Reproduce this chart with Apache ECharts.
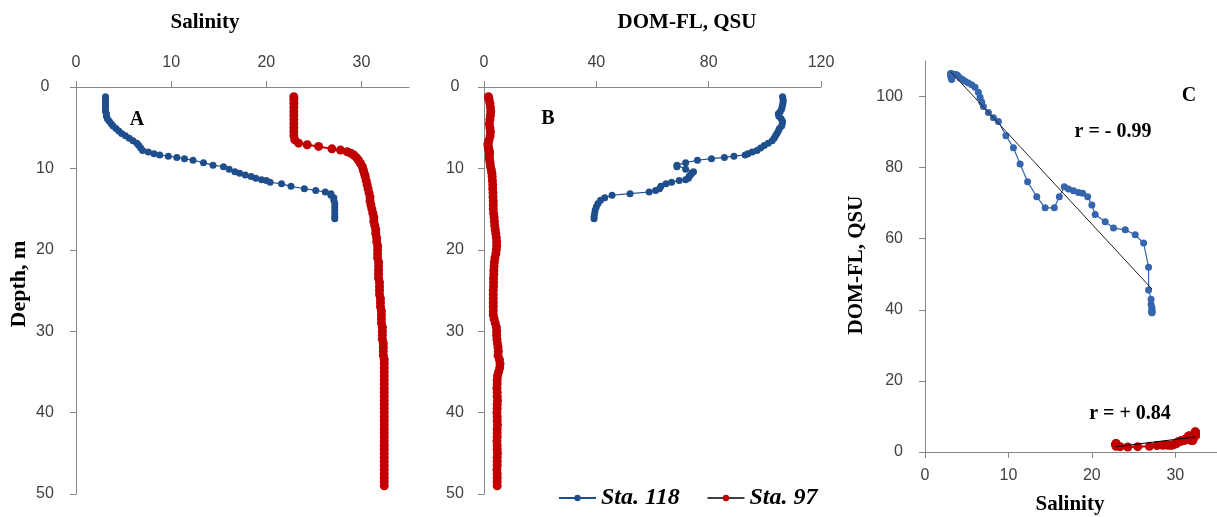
<!DOCTYPE html>
<html>
<head>
<meta charset="utf-8">
<script src="https://cdn.jsdelivr.net/npm/echarts@6/dist/echarts.min.js"></script>
</head>
<body style="margin:0;padding:0;background:#fff;">
<div id="chart" style="width:1217px;height:517px;"></div>
<script>
// Sta. 118 profile: depth (m), salinity, DOM fluorescence (QSU)
const depth118 = [1.2,1.5,1.8,2.1,2.4,2.7,3.0,3.3,3.6,3.9,4.2,4.5,4.8,5.1,5.4,5.7,6.0,6.3,6.6,6.9,
  7.2,7.5,7.8,8.0,8.2,8.35,8.5,8.65,8.8,9.0,9.3,9.6,9.8,10.1,10.4,10.6,10.8,11.0,11.2,11.4,
  11.5,11.7,11.9,12.2,12.5,12.7,12.9,13.1,13.3,13.6,13.9,14.3,14.7,15.1,15.5,15.9,16.2];
const sal118 = [3.1,3.1,3.1,3.1,3.1,3.1,3.1,3.2,3.2,3.3,3.5,3.7,3.9,4.2,4.5,4.8,5.2,5.6,6.0,6.4,
  6.6,6.8,7.0,7.6,8.2,8.8,9.7,10.6,11.4,12.3,13.4,14.4,15.5,16.1,16.7,17.2,17.8,18.4,18.9,19.5,
  20.0,20.4,21.6,22.6,24.0,25.2,26.2,26.8,26.8,27.1,27.1,27.2,27.2,27.2,27.2,27.2,27.2];
const dom118 = [106.3,106.5,106.5,106.4,106.2,106.0,105.5,104.8,105.0,105.8,106.3,106.2,106.0,105.2,104.8,104.3,103.8,103.3,102.6,101.2,
  99.8,98.5,97.2,95.5,94.0,93.0,89.0,85.6,81.0,76.0,71.8,68.7,68.7,71.8,74.6,74.0,73.5,73.0,72.8,71.8,
  69.5,66.8,64.8,63.0,62.5,61.1,58.8,52.0,45.6,43.0,41.5,40.6,40.0,39.6,39.4,39.2,39.2];

// Sta. 97 profile
const depth97 = [1.2,1.5,2.0,2.5,3.0,3.5,4.0,4.5,5.0,5.5,6.0,6.5,6.9,7.1,7.3,7.6,7.75,7.95,8.15,8.35,
  8.7,9.0,9.4,9.8,10.2,10.6,11.0,11.5,12.0,12.5,13.0,13.5,14.0,14.5,15.0,15.5,16.0,16.5,17.0,17.5,
  18.0,18.5,19.0,19.5,20.0,20.5,21.0,21.5,22.0,22.5,23.0,23.5,24.0,24.5,25.0,25.5,26.0,26.5,27.0,27.5,
  28.0,28.5,29.0,29.5,30.0,30.5,31.0,31.5,32.0,32.5,33.0,33.5,34.0,34.5,35.0,35.5,36.0,36.5,37.0,37.5,
  38.0,38.5,39.0,39.5,40.0,40.5,41.0,41.5,42.0,42.5,43.0,43.5,44.0,44.5,45.0,45.5,46.0,46.5,47.0,47.5,
  48.0,48.5,49.0];
const sal97 = [22.9,22.9,22.9,22.9,22.9,22.9,22.9,22.9,22.9,22.9,22.9,23.0,23.4,24.3,25.5,26.9,27.8,28.5,28.9,29.2,
  29.5,29.7,29.9,30.1,30.2,30.3,30.4,30.5,30.6,30.7,30.8,30.9,30.9,31.0,31.1,31.2,31.3,31.3,31.4,31.5,
  31.5,31.6,31.6,31.7,31.7,31.7,31.7,31.8,31.8,31.8,31.8,31.8,31.9,31.9,31.9,31.9,32.0,32.0,32.0,32.1,
  32.1,32.1,32.1,32.2,32.2,32.2,32.2,32.3,32.3,32.3,32.3,32.4,32.4,32.4,32.4,32.4,32.4,32.4,32.4,32.4,
  32.4,32.4,32.4,32.4,32.4,32.4,32.4,32.4,32.4,32.4,32.4,32.4,32.4,32.4,32.4,32.4,32.4,32.4,32.4,32.4,
  32.4,32.4,32.4];
const dom97 = [1.6,1.8,2.1,2.3,2.4,2.3,2.1,1.9,2.1,2.3,2.2,1.8,1.5,1.4,1.5,1.6,1.8,1.9,2.0,1.9,
  1.9,2.0,2.2,2.3,2.6,2.8,2.9,3.0,3.1,3.1,3.2,3.2,3.3,3.3,3.3,3.4,3.6,3.7,3.8,4.0,
  4.2,4.4,4.5,4.5,4.4,4.2,3.9,3.7,3.6,3.5,3.5,3.4,3.4,3.4,3.3,3.3,3.3,3.3,3.3,3.3,
  3.3,3.6,4.0,4.4,4.5,4.5,4.6,4.8,5.0,5.1,5.0,5.5,5.7,5.6,5.2,4.8,4.7,4.7,4.6,4.7,
  4.7,4.8,4.7,4.7,4.6,4.7,4.7,4.8,4.7,4.7,4.7,4.6,4.7,4.7,4.8,4.7,4.7,4.7,4.6,4.7,
  4.7,4.7,4.7];

const salTicks = [0, 10, 20, 30];
const domTicks = [0, 40, 80, 120];
const depthTicks = [0, 10, 20, 30, 40, 50];
const domCTicks = [0, 20, 40, 60, 80, 100];

const BLUE = '#1f4e8c';
const BLUE_C = '#3465ae';
const RED = '#c00000';
const AXIS = '#868686';
const SERIF = '"Liberation Serif", "Times New Roman", serif';

// least squares line over the range of x
function trend(xs, ys) {
  const n = xs.length;
  let sx = 0, sy = 0, sxx = 0, sxy = 0;
  for (let i = 0; i < n; i++) { sx += xs[i]; sy += ys[i]; sxx += xs[i] * xs[i]; sxy += xs[i] * ys[i]; }
  const b = (n * sxy - sx * sy) / (n * sxx - sx * sx);
  const a = (sy - b * sx) / n;
  const lo = Math.min(...xs), hi = Math.max(...xs);
  return [[lo, a + b * lo], [hi, a + b * hi]];
}

const pairs = (xs, ys) => xs.map((x, i) => [x, ys[i]]);

const lineStyle = { color: AXIS, width: 1 };
const tickLabel = { color: '#404040', fontSize: 16, fontFamily: '"Liberation Sans", Arial, sans-serif' };

function axis(extra, ticks, labelExtra) {
  return Object.assign({
    type: 'value',
    axisLine: { show: true, onZero: false, lineStyle },
    axisTick: { show: true, length: 6, customValues: ticks, lineStyle },
    axisLabel: Object.assign({ customValues: ticks }, tickLabel, labelExtra),
    splitLine: { show: false }
  }, extra);
}

// red profiles: markers only, the legend still gets its black line
const red97 = { symbol: 'circle', symbolSize: 9, itemStyle: { color: RED }, lineStyle: { color: RED, width: 2 } };
const blue118 = { symbol: 'circle', symbolSize: 7, itemStyle: { color: BLUE }, lineStyle: { color: BLUE, width: 1.2 } };

const chart = echarts.init(document.getElementById('chart'));

const option = {
  animation: false,
  backgroundColor: '#fff',
  grid: [
    { left: 76, top: 87, width: 333, height: 407, outerBoundsMode: 'none' },
    { left: 484, top: 87, width: 337, height: 407, outerBoundsMode: 'none' },
    { left: 925, top: 61, width: 292, height: 391, outerBoundsMode: 'none' }
  ],
  xAxis: [
    axis({ gridIndex: 0, position: 'top', min: 0, max: 35, interval: 10 }, salTicks, { margin: 16 }),
    axis({ gridIndex: 1, position: 'top', min: 0, max: 120, interval: 40 }, domTicks, { margin: 16 }),
    axis({ gridIndex: 2, position: 'bottom', min: 0, max: 35, interval: 10 }, salTicks, { margin: 16 })
  ],
  yAxis: [
    axis({ gridIndex: 0, inverse: true, min: 0, max: 50, interval: 10 }, depthTicks, { align: 'center', margin: 31 }),
    axis({ gridIndex: 1, inverse: true, min: 0, max: 50, interval: 10 }, depthTicks, { align: 'center', margin: 29 }),
    axis({ gridIndex: 2, min: 0, max: 110, interval: 10 }, domCTicks, { margin: 22 })
  ],
  legend: {
    data: [
      { name: 'Sta. 118' },
      { name: 'Sta. 97', lineStyle: { color: '#000', width: 1.5 } }
    ],
    left: 553, top: 481,
    itemWidth: 37, itemHeight: 8, itemGap: 27,
    textStyle: { fontFamily: SERIF, fontWeight: 'bold', fontStyle: 'italic', fontSize: 24, color: '#000' }
  },
  series: [
    Object.assign({ name: 'Sta. 97', type: 'line', xAxisIndex: 0, yAxisIndex: 0, data: pairs(sal97, depth97) }, red97),
    Object.assign({ name: 'Sta. 118', type: 'line', xAxisIndex: 0, yAxisIndex: 0, data: pairs(sal118, depth118) }, blue118),
    Object.assign({ name: 'Sta. 97', type: 'line', xAxisIndex: 1, yAxisIndex: 1, data: pairs(dom97, depth97) }, red97),
    Object.assign({ name: 'Sta. 118', type: 'line', xAxisIndex: 1, yAxisIndex: 1, data: pairs(dom118, depth118) }, blue118),
    { name: 'Sta. 118', type: 'line', xAxisIndex: 2, yAxisIndex: 2, data: pairs(sal118, dom118),
      symbol: 'circle', symbolSize: 7, itemStyle: { color: BLUE_C }, lineStyle: { color: BLUE_C, width: 1.2 } },
    Object.assign({ name: 'Sta. 97', type: 'line', xAxisIndex: 2, yAxisIndex: 2, data: pairs(sal97, dom97) }, red97),
    { name: 'fit118', type: 'line', xAxisIndex: 2, yAxisIndex: 2, data: trend(sal118, dom118),
      symbol: 'none', z: 5, lineStyle: { color: '#222', width: 1 } },
    { name: 'fit97', type: 'line', xAxisIndex: 2, yAxisIndex: 2, data: trend(sal97, dom97),
      symbol: 'none', z: 5, lineStyle: { color: '#000', width: 1 } }
  ],
  graphic: [
    { type: 'text', x: 205, y: 23, style: { text: 'Salinity', font: 'bold 21px ' + SERIF, fill: '#000', textAlign: 'center', textVerticalAlign: 'middle' } },
    { type: 'text', x: 687, y: 23, style: { text: 'DOM-FL, QSU', font: 'bold 21px ' + SERIF, fill: '#000', textAlign: 'center', textVerticalAlign: 'middle' } },
    { type: 'text', x: 19, y: 284, rotation: Math.PI / 2, style: { text: 'Depth, m', font: 'bold 22px ' + SERIF, fill: '#000', textAlign: 'center', textVerticalAlign: 'middle' } },
    { type: 'text', x: 857, y: 265, rotation: Math.PI / 2, style: { text: 'DOM-FL, QSU', font: 'bold 21px ' + SERIF, fill: '#000', textAlign: 'center', textVerticalAlign: 'middle' } },
    { type: 'text', x: 1070, y: 505, style: { text: 'Salinity', font: 'bold 21px ' + SERIF, fill: '#000', textAlign: 'center', textVerticalAlign: 'middle' } },
    { type: 'text', x: 137, y: 120, style: { text: 'A', font: 'bold 20px ' + SERIF, fill: '#000', textAlign: 'center', textVerticalAlign: 'middle' } },
    { type: 'text', x: 548, y: 119, style: { text: 'B', font: 'bold 20px ' + SERIF, fill: '#000', textAlign: 'center', textVerticalAlign: 'middle' } },
    { type: 'text', x: 1189, y: 96, style: { text: 'C', font: 'bold 20px ' + SERIF, fill: '#000', textAlign: 'center', textVerticalAlign: 'middle' } },
    { type: 'text', x: 1113, y: 132, style: { text: 'r = - 0.99', font: 'bold 20px ' + SERIF, fill: '#000', textAlign: 'center', textVerticalAlign: 'middle' } },
    { type: 'text', x: 1130, y: 414, style: { text: 'r = + 0.84', font: 'bold 20px ' + SERIF, fill: '#000', textAlign: 'center', textVerticalAlign: 'middle' } }
  ]
};

chart.setOption(option);
</script>
</body>
</html>
